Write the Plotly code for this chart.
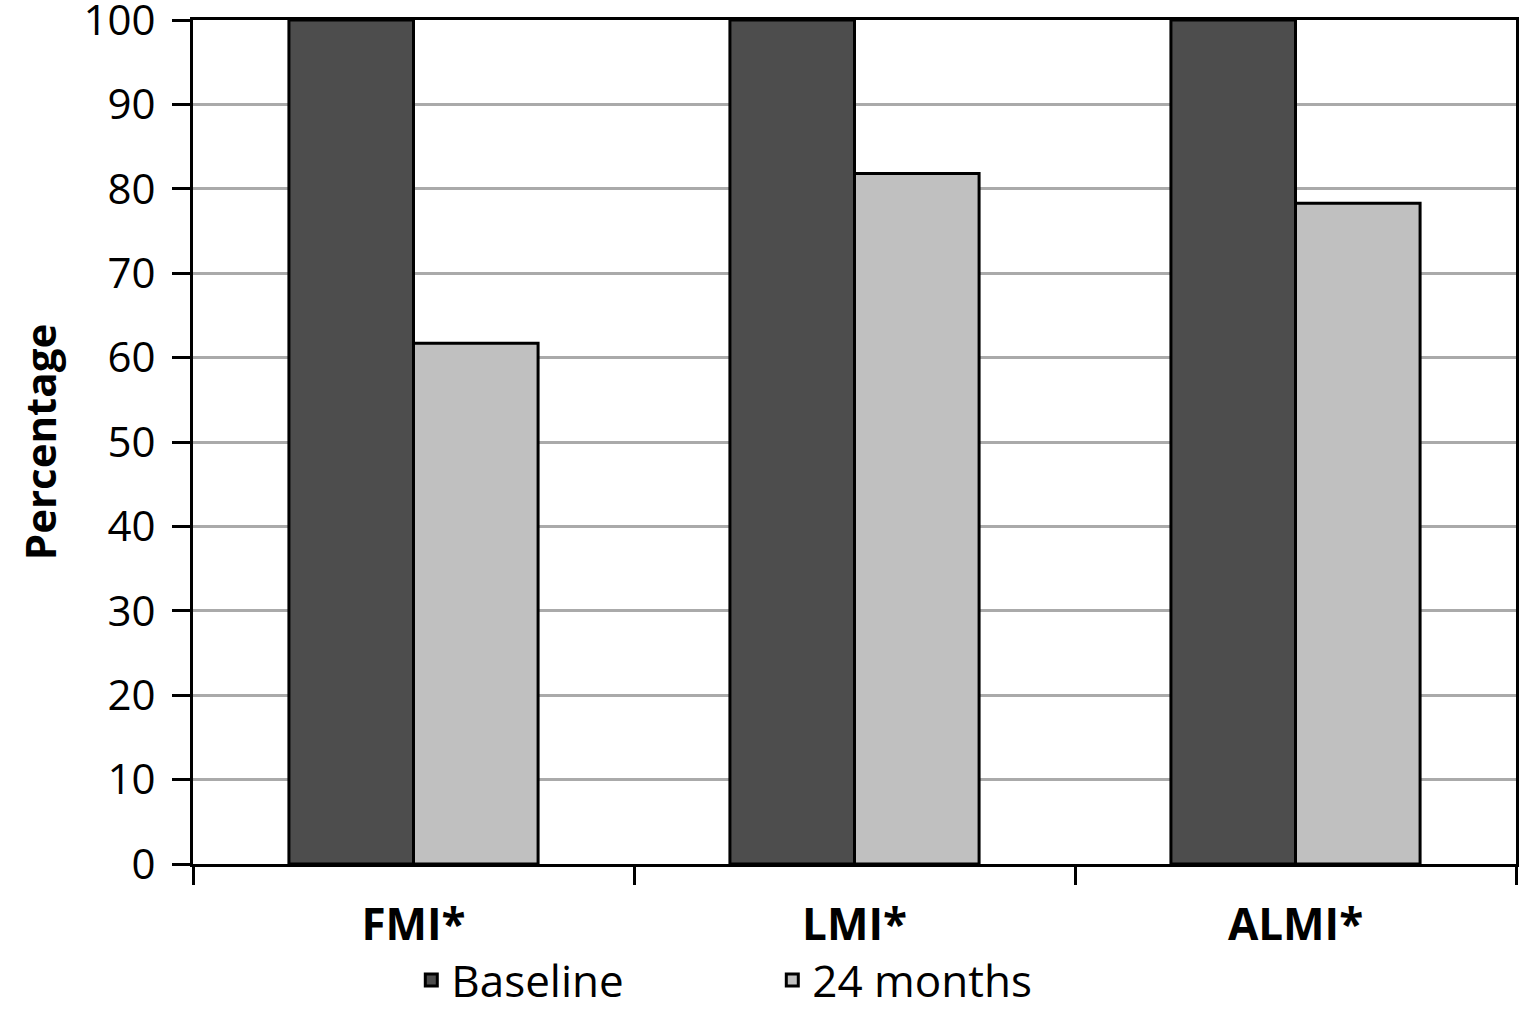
import plotly.graph_objects as go

categories = ["FMI*", "LMI*", "ALMI*"]
baseline = [100, 100, 100]
months24 = [61.7, 81.8, 78.3]
yticks = [0, 10, 20, 30, 40, 50, 60, 70, 80, 90, 100]

font_family = "Open Sans"

fig = go.Figure()
fig.add_trace(go.Bar(name="Baseline", x=categories, y=baseline,
                     marker=dict(color="#4d4d4d", line=dict(color="black", width=3))))
fig.add_trace(go.Bar(name="24 months", x=categories, y=months24,
                     marker=dict(color="#c0c0c0", line=dict(color="black", width=3))))

fig.update_layout(
    width=1519, height=1013,
    margin=dict(l=193, r=3, t=20, b=149, autoexpand=False),
    paper_bgcolor="white", plot_bgcolor="white",
    barmode="group", bargap=0.435, bargroupgap=0,
    font=dict(family=font_family, size=44, color="black"),
    showlegend=True,
    legend=dict(orientation="h", x=0.165, xanchor="left", y=-0.138, yanchor="middle",
                font=dict(size=44, family=font_family), itemwidth=30,
                entrywidth=316, entrywidthmode="pixels",
                tracegroupgap=0, itemclick=False),
)
fig.update_xaxes(
    type="category", tickson="boundaries", ticks="outside", ticklen=18, tickwidth=3,
    tickcolor="black", showline=True, linecolor="black", linewidth=3, mirror=True,
    tickfont=dict(size=44, family=font_family, weight="bold"),
    ticklabelstandoff=20, automargin=False,
)
fig.update_yaxes(
    range=[0, 100.001], tickvals=yticks, ticks="outside", ticklen=18, tickwidth=3,
    tickcolor="black", showline=True, linecolor="black", linewidth=3, mirror=True,
    showgrid=True, gridcolor="#aaaaaa", gridwidth=3, zeroline=False,
    tickfont=dict(size=42), ticklabelstandoff=8, automargin=False,
    ticklabeloverflow="allow",
    title=dict(text="<b>Percentage</b>", font=dict(size=42), standoff=14),
)

fig.write_html("out.html", config={"displayModeBar": False},
               post_script="document.body.style.margin='0';document.body.style.overflow='hidden';")
